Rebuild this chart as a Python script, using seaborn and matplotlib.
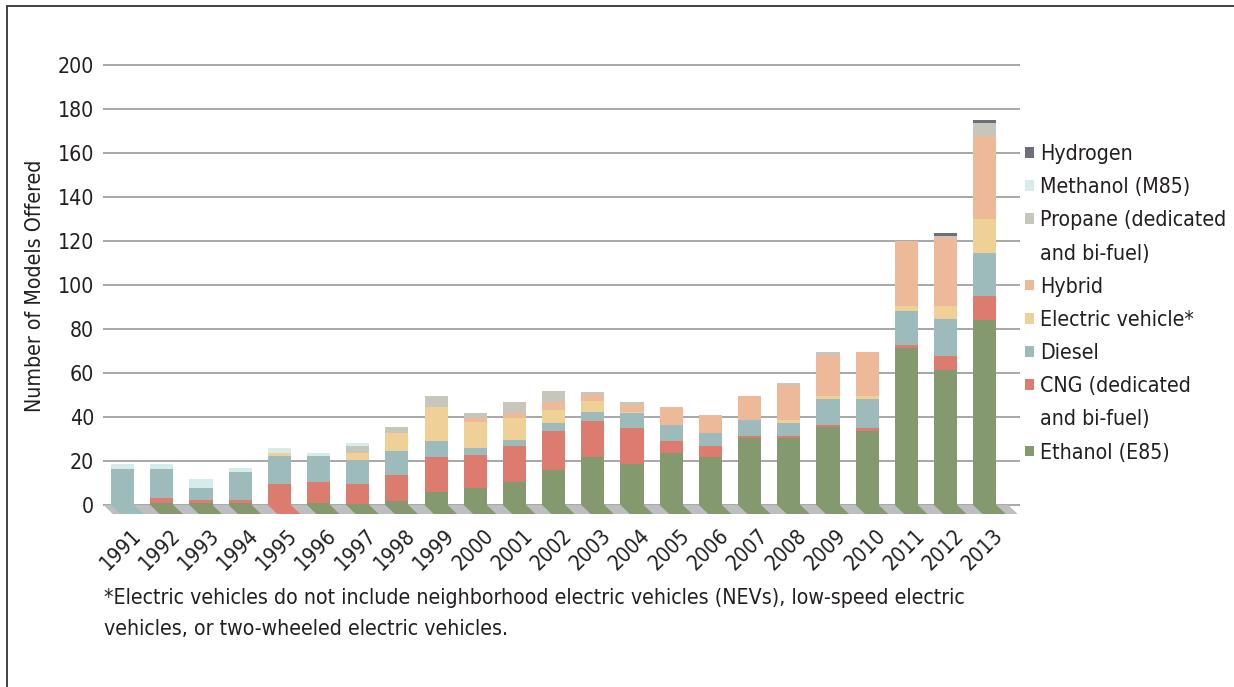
import numpy as np
import matplotlib
matplotlib.use("Agg")
import matplotlib.pyplot as plt
import matplotlib.transforms as mtransforms
from matplotlib.patches import Polygon, Patch
from matplotlib.lines import Line2D
import seaborn as sns

# ---------------- data ----------------
years = [str(y) for y in range(1991, 2014)]

ethanol  = [0, 1, 1, 1, 0, 1, 0.5, 2, 6, 7.5, 10.5, 16, 22, 18.5, 23.5, 22, 30.5, 30.5, 35.5, 33.5, 71.5, 61.5, 84]
cng      = [0, 2, 1.3, 1.3, 9.5, 9.5, 9, 11.5, 15.8, 15, 16.3, 17.6, 16, 16.5, 5.5, 5, 1, 1, 1, 1.5, 1.2, 6.2, 11]
diesel   = [16.5, 13.5, 5.5, 12.5, 12.8, 11.8, 11, 11, 7.3, 3.2, 2.7, 3.7, 4.1, 6.8, 7.3, 5.9, 7.2, 5.9, 11.8, 13.2, 15.5, 16.8, 19.6]
electric = [0, 0, 0, 0, 1.3, 0, 3.1, 8.2, 15.4, 12.2, 10, 5.9, 5, 0.5, 0, 0, 0, 1.3, 1.3, 1.3, 2.3, 6, 15.4]
hybrid   = [0, 0, 0, 0, 0, 0, 0, 0, 0, 1.8, 2.3, 3.6, 2.7, 3.2, 8.1, 8.2, 10.9, 15.9, 18.7, 20, 29.5, 30.9, 37.8]
propane  = [0, 0, 0, 0, 0, 0, 3.4, 2.8, 5, 2.3, 5, 5, 1.4, 1.3, 0, 0, 0, 1, 1.3, 0, 0, 0.9, 5.9]
methanol = [2.2, 2.2, 4.1, 1.8, 2.3, 1.3, 1.2, 0, 0, 0, 0, 0, 0, 0, 0, 0, 0, 0, 0, 0, 0, 0, 0]
hydrogen = [0, 0, 0, 0, 0, 0, 0, 0, 0, 0, 0, 0, 0, 0, 0, 0, 0, 0, 0, 0, 0, 1.3, 1.3]

series_names = ["Ethanol (E85)", "CNG (dedicated\nand bi-fuel)", "Diesel", "Electric vehicle*",
                "Hybrid", "Propane (dedicated\nand bi-fuel)", "Methanol (M85)", "Hydrogen"]
series_values = [ethanol, cng, diesel, electric, hybrid, propane, methanol, hydrogen]
series_colors = ["#85996E", "#DC7C6E", "#9DBBBA", "#EFD097",
                 "#EDB999", "#C6C6BA", "#D5ECEA", "#6E6E78"]

y_ticks = list(range(0, 201, 20))
footnote = ("*Electric vehicles do not include neighborhood electric vehicles (NEVs), low-speed electric\n"
            "vehicles, or two-wheeled electric vehicles.")
y_title = "Number of Models Offered"

# ---------------- style ----------------
sns.set_style("white")
plt.rcParams['font.family'] = ['Liberation Sans Narrow', 'DejaVu Sans']
plt.rcParams['font.stretch'] = 'condensed'
TXT = "#231F20"
FS = 15.3

W, H = 1234, 687
fig = plt.figure(figsize=(W / 100, H / 100), dpi=100)
ax = fig.add_axes([103 / W, 1 - 514 / H, (1020 - 103) / W, (514 - 62.8) / H])

bottom = np.zeros(len(years))
for name, vals, col in zip(series_names, series_values, series_colors):
    vals = np.asarray(vals, dtype=float)
    sns.barplot(x=years, y=vals, bottom=bottom.copy(), color=col, width=0.59,
                saturation=1, errorbar=None, linewidth=0, order=years, ax=ax, zorder=3)
    bottom += vals

ax.set_xlim(-0.5, 22.9)
ax.set_ylim(-4.1, 201)

# floor of the 3-D style plot
shift = 0.24
floor_y = -4.1
xl, xr = -0.49, 22.6
ax.add_patch(Polygon([(xl, 0), (xr, 0), (xr + shift, floor_y), (xl + shift, floor_y)],
                     closed=True, facecolor="#BDBEC0", edgecolor="none", zorder=1, clip_on=False))

# bar "feet" on the floor, colour of the lowest non-zero segment
first_bars = ax.containers[0].patches
for i, p in enumerate(first_bars):
    col = None
    for vals, c in zip(series_values, series_colors):
        if vals[i] > 0:
            col = c
            break
    x0, w = p.get_x(), p.get_width()
    ax.add_patch(Polygon([(x0, 0), (x0 + w, 0), (x0 + w + shift, floor_y), (x0 + shift, floor_y)],
                         closed=True, facecolor=col, edgecolor="none", zorder=2, clip_on=False))

# axes styling
for s in ax.spines.values():
    s.set_visible(False)
ax.set_yticks(y_ticks)
ax.set_yticklabels([str(t) for t in y_ticks], fontsize=FS, color=TXT)
ax.yaxis.grid(True, color="#A0A0A0", linewidth=1.3)
ax.xaxis.grid(False)
ax.set_axisbelow(True)
ax.tick_params(axis="both", length=0)
ax.tick_params(axis="y", pad=6.5)
ax.tick_params(axis="x", pad=8)
ax.set_xlabel("")
ax.set_ylabel("")
ax.set_xticks(range(len(years)))
ax.set_xticklabels(years, rotation=45, ha="right", rotation_mode="anchor",
                   fontsize=FS, color=TXT)
offset = mtransforms.ScaledTranslation(8 / 100, 0, fig.dpi_scale_trans)
for lab in ax.get_xticklabels():
    lab.set_transform(lab.get_transform() + offset)

fig.text(35 / W, 1 - 286 / H, y_title, rotation=90, ha="center", va="center",
         fontsize=FS, color=TXT)
fig.text(104 / W, 1 - 613.5 / H, footnote, ha="left", va="center", fontsize=FS,
         color=TXT, linespacing=1.68)

# legend (top entry = last series), multi-line labels split in rows
handles, labels = [], []
for name, col in zip(series_names[::-1], series_colors[::-1]):
    parts = name.split("\n")
    handles.append(Patch(facecolor=col, edgecolor="none"))
    labels.append(parts[0])
    for extra in parts[1:]:
        handles.append(Patch(facecolor="none", edgecolor="none"))
        labels.append(extra)
fig.legend(handles, labels, loc="upper left", bbox_to_anchor=(1025 / W, 1 - 144 / H),
           frameon=False, fontsize=FS, handlelength=0.4, handleheight=0.4,
           handletextpad=0.3, labelspacing=0.62, borderaxespad=0, borderpad=0,
           labelcolor=TXT)

# outer frame lines
fig.add_artist(Line2D([7 / W, 7 / W], [0, 1 - 6 / H], transform=fig.transFigure,
                      color="#333333", linewidth=1.3))
fig.add_artist(Line2D([7 / W, 1], [1 - 6 / H, 1 - 6 / H], transform=fig.transFigure,
                      color="#333333", linewidth=1.3))

fig.savefig("out.png", dpi=100)
